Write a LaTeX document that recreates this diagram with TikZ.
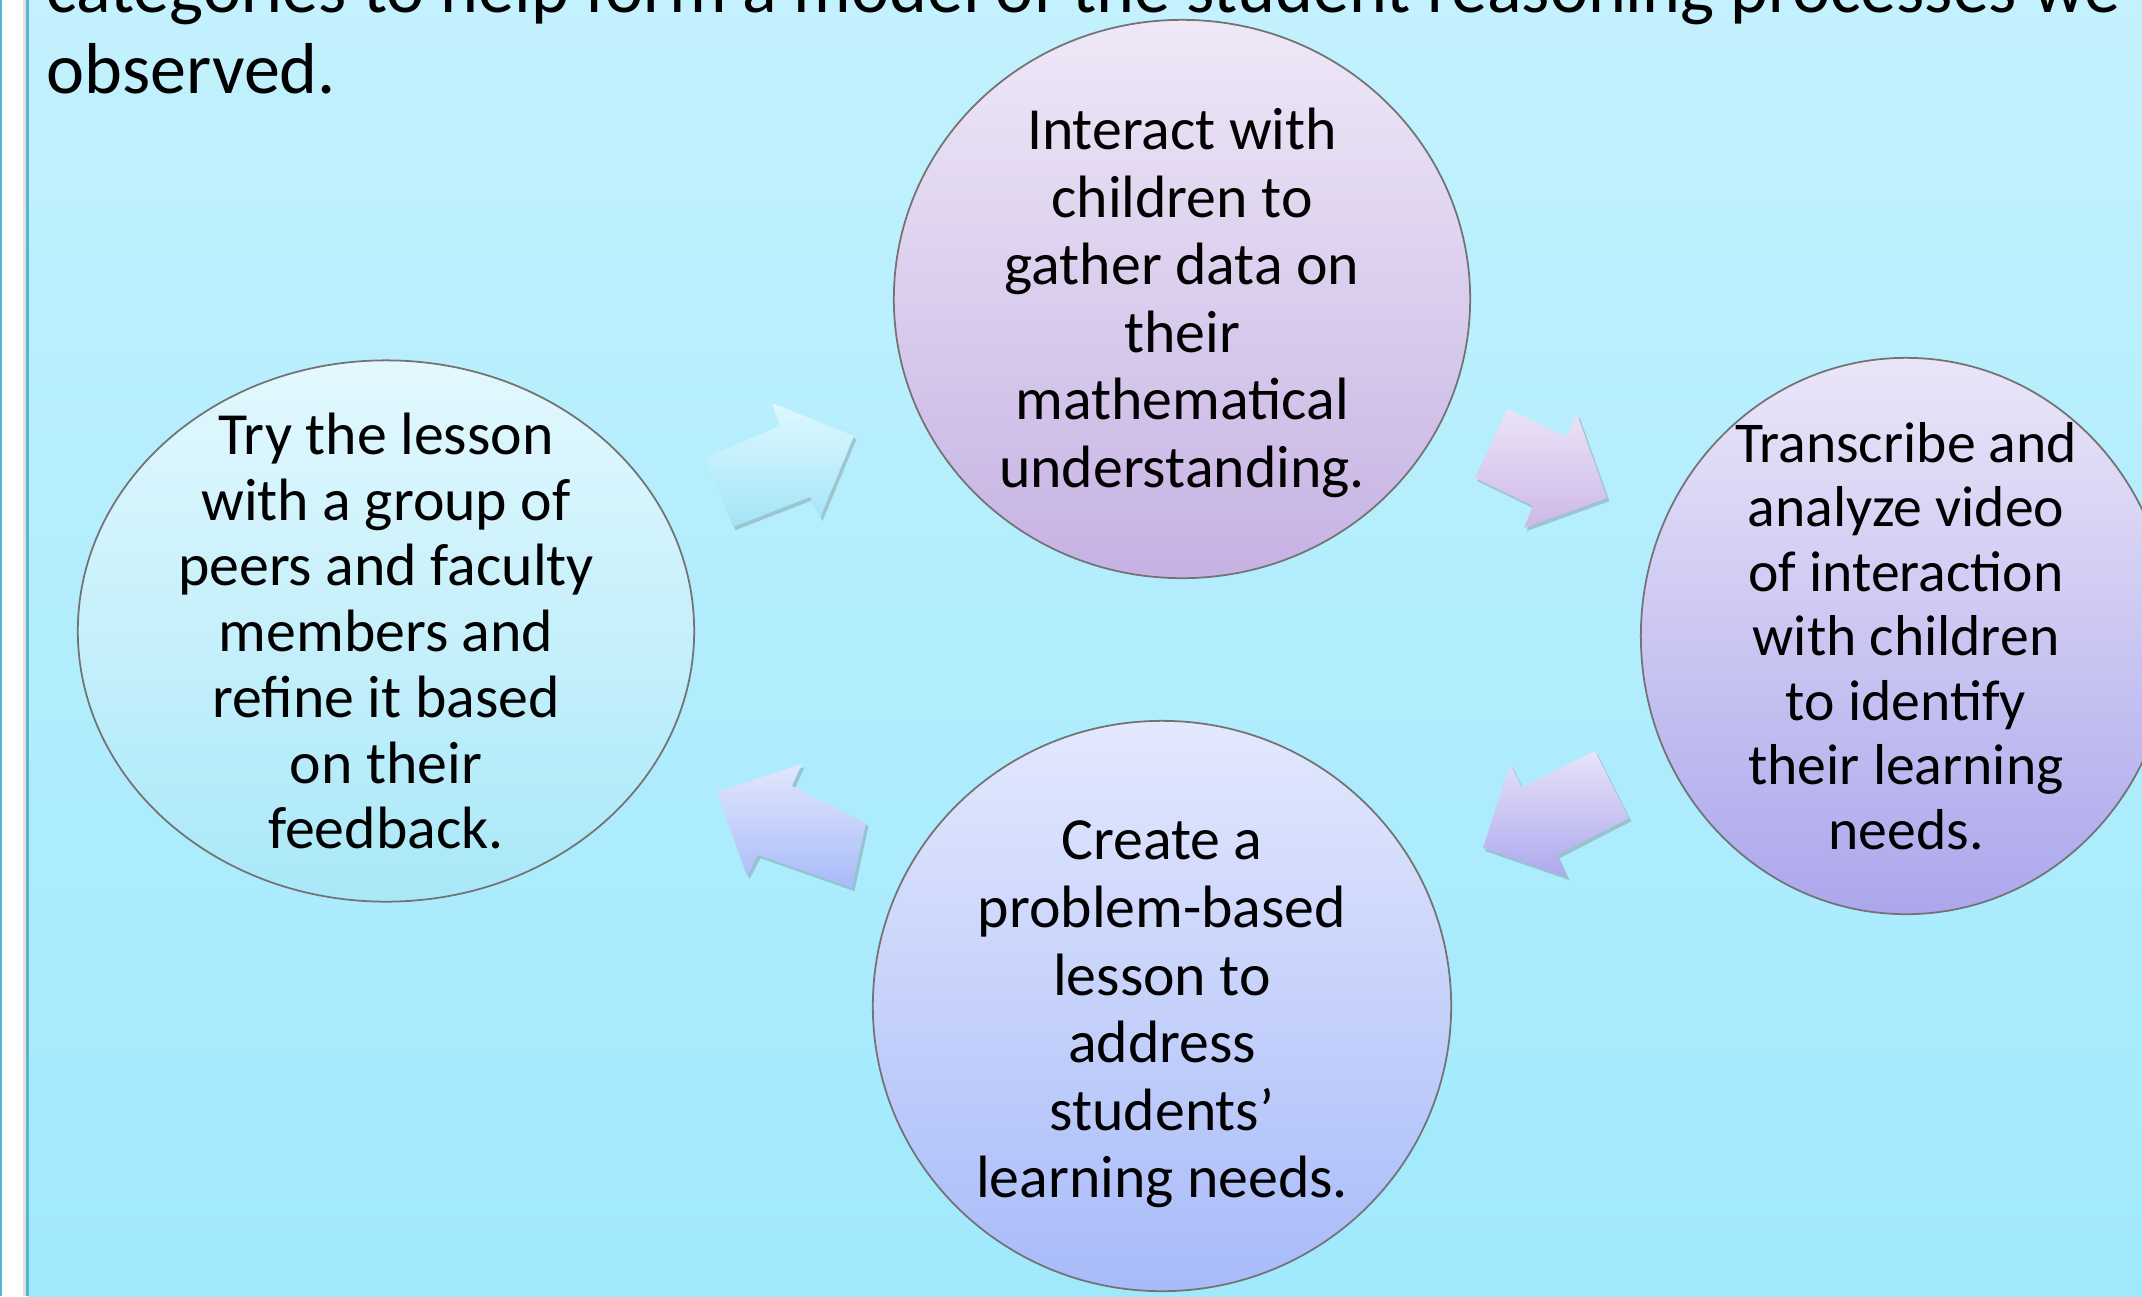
\documentclass[tikz,border=0pt]{standalone}
\usepackage{fontspec}
\setmainfont{Carlito}
\usepackage{tikz}
\usetikzlibrary{shapes.geometric,shadows,positioning}

\definecolor{bgtop}{HTML}{C3F1FD}
\definecolor{bgbot}{HTML}{A0E9FD}
\definecolor{edgeblue}{HTML}{5AB4CF}
\tikzstyle{stage}      = [ellipse, draw=black!55, line width=0.5pt, inner sep=0pt]
\tikzstyle{stagetext}  = [inner sep=0pt, align=center, text=black, font=\fontsize{17}{19.2}\selectfont]
\tikzstyle{cyclearrow} = [drop shadow={shadow xshift=0.7pt, shadow yshift=-0.9pt, opacity=0.3, fill=black!60}]
\tikzstyle{headline}   = [anchor=base west, inner sep=0pt, font=\fontsize{20.5}{24}\selectfont]

\begin{document}
\begin{tikzpicture}[x=0.01cm, y=-0.01cm]
		\clip (0,0) rectangle (2142,1296);
		\shade[top color=bgtop, bottom color=bgbot] (28,0) rectangle (2142,1296);
		\fill[white] (0,0) rectangle (28,1296);
		\fill[black!12] (23,0) rectangle (26,1296);
		\draw[edgeblue, line width=0.6pt] (1,0) -- (1,1296);
		\draw[edgeblue, line width=0.6pt] (27.5,0) -- (27.5,1296);

		\node[headline] (lineA) at (46,12) {categories to help form a model of the student reasoning processes we};
		\node[headline] (lineB) at (46,93) {observed.};

		\node[stage, minimum width=6.16cm, minimum height=5.41cm, top color={rgb,255:red,227;green,248;blue,254}, bottom color={rgb,255:red,169;green,232;blue,248}] (lesson) at (386,631) {};
		\node[stage, minimum width=5.76cm, minimum height=5.58cm, top color={rgb,255:red,239;green,232;blue,247}, bottom color={rgb,255:red,198;green,178;blue,227}] (interact) at (1182,299) {};
		\node[stage, minimum width=5.30cm, minimum height=5.56cm, top color={rgb,255:red,234;green,230;blue,248}, bottom color={rgb,255:red,172;green,167;blue,236}] (transcribe) at (1906,636) {};
		\node[stage, minimum width=5.78cm, minimum height=5.70cm, top color={rgb,255:red,227;green,232;blue,253}, bottom color={rgb,255:red,168;green,187;blue,249}] (create) at (1162,1006) {};

		\node[stagetext, font=\fontsize{17}{18.7}\selectfont] (lessontext) at (lesson.center)
			{Try the lesson\\with a group of\\peers and faculty\\members and\\refine it based\\on their\\feedback.};
		\node[stagetext] (interacttext) at ([yshift=-0.04cm]interact.center)
			{Interact with\\children to\\gather data on\\their\\mathematical\\understanding.};
		\node[stagetext, font=\fontsize{16.4}{18.35}\selectfont] (transcribetext) at (transcribe.center)
			{Transcribe and\\analyze video\\of interaction\\with children\\to identify\\their learning\\needs.};
		\node[stagetext] (createtext) at ([yshift=-0.085cm]create.center)
			{Create a\\problem-based\\lesson to\\address\\students’\\learning needs.};

		\shade[cyclearrow, top color={rgb,255:red,222;green,248;blue,255}, bottom color={rgb,255:red,163;green,228;blue,246}]
			(733,527) -- (706,457) -- (780,426) -- (772,403) -- (854,436) -- (820,518) -- (810,497) -- cycle;
		\shade[cyclearrow, top color={rgb,255:red,235;green,227;blue,247}, bottom color={rgb,255:red,205;green,184;blue,232}]
			(1507,409) -- (1475,478) -- (1533,506) -- (1524,528) -- (1607,498) -- (1577,414) -- (1566,436) -- cycle;
		\shade[cyclearrow, top color={rgb,255:red,230;green,227;blue,249}, bottom color={rgb,255:red,175;green,168;blue,238}]
			(1595,751) -- (1629,818) -- (1557,855) -- (1567,877) -- (1483,848) -- (1510,764) -- (1522,787) -- cycle;
		\shade[cyclearrow, top color={rgb,255:red,226;green,231;blue,253}, bottom color={rgb,255:red,168;green,187;blue,248}]
			(866,823) -- (852,888) -- (758,855) -- (747,876) -- (717,792) -- (802,764) -- (792,786) -- cycle;
	\end{tikzpicture}
\end{document}
